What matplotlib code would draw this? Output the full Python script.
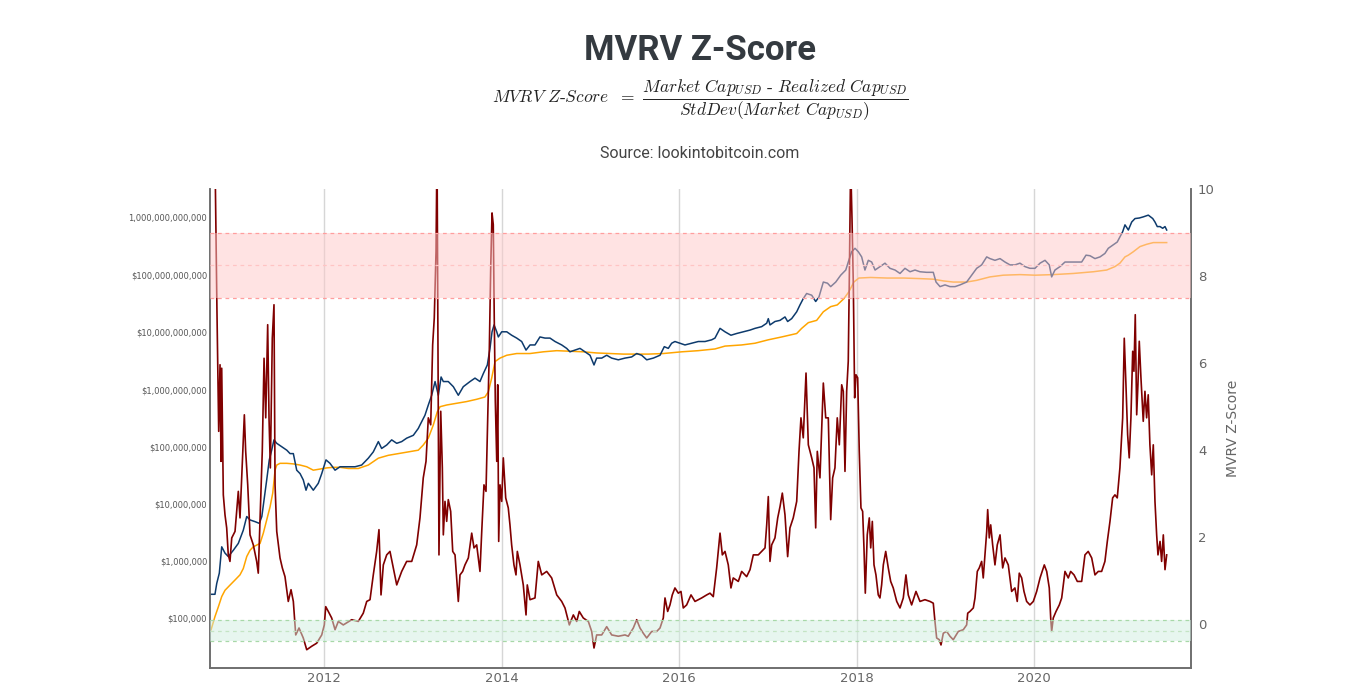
import numpy as np
import matplotlib
matplotlib.use("Agg")
import matplotlib.pyplot as plt
from matplotlib.ticker import FixedLocator, NullLocator

# ---- data (x in decimal years) ----
z_year = [2010.74, 2010.77, 2010.79, 2010.81, 2010.825, 2010.836, 2010.844, 2010.862, 2010.881, 2010.900,
          2010.918, 2010.937, 2010.957, 2010.994, 2011.031, 2011.050, 2011.069, 2011.087, 2011.099, 2011.114,
          2011.137, 2011.163, 2011.200, 2011.238, 2011.256, 2011.276, 2011.301, 2011.321, 2011.340, 2011.362,
          2011.377, 2011.392, 2011.414, 2011.433, 2011.445, 2011.464, 2011.501, 2011.527, 2011.557, 2011.594,
          2011.625, 2011.651, 2011.678, 2011.715, 2011.763, 2011.802, 2011.858, 2011.914, 2011.971, 2012.000,
          2012.016, 2012.045, 2012.083, 2012.121, 2012.158, 2012.214, 2012.309, 2012.383, 2012.439, 2012.478,
          2012.515, 2012.552, 2012.590, 2012.616, 2012.639, 2012.665, 2012.703, 2012.740, 2012.777, 2012.816,
          2012.872, 2012.928, 2012.985, 2013.041, 2013.078, 2013.115, 2013.146, 2013.172, 2013.199, 2013.221,
          2013.239, 2013.259, 2013.270, 2013.281, 2013.292, 2013.312, 2013.330, 2013.341, 2013.360, 2013.379,
          2013.397, 2013.424, 2013.447, 2013.473, 2013.510, 2013.529, 2013.559, 2013.585, 2013.623, 2013.661,
          2013.687, 2013.717, 2013.754, 2013.774, 2013.799, 2013.822, 2013.841, 2013.859, 2013.875, 2013.890,
          2013.904, 2013.915, 2013.927, 2013.943, 2013.954, 2013.965, 2013.980, 2013.999, 2014.017, 2014.044,
          2014.073, 2014.092, 2014.111, 2014.137, 2014.160, 2014.175, 2014.205, 2014.242, 2014.273, 2014.287,
          2014.318, 2014.374, 2014.411, 2014.450, 2014.506, 2014.562, 2014.619, 2014.675, 2014.712, 2014.761,
          2014.806, 2014.844, 2014.873, 2014.918, 2014.975, 2015.013, 2015.039, 2015.069, 2015.126, 2015.182,
          2015.238, 2015.313, 2015.388, 2015.425, 2015.482, 2015.520, 2015.557, 2015.594, 2015.633, 2015.689,
          2015.745, 2015.783, 2015.820, 2015.839, 2015.869, 2015.895, 2015.921, 2015.951, 2015.989, 2016.019,
          2016.045, 2016.083, 2016.132, 2016.177, 2016.252, 2016.309, 2016.346, 2016.383, 2016.421, 2016.459,
          2016.485, 2016.515, 2016.552, 2016.582, 2016.608, 2016.665, 2016.703, 2016.759, 2016.797, 2016.834,
          2016.890, 2016.928, 2016.966, 2016.985, 2017.003, 2017.022, 2017.041, 2017.078, 2017.109, 2017.135,
          2017.161, 2017.191, 2017.221, 2017.247, 2017.284, 2017.323, 2017.349, 2017.371, 2017.397, 2017.428,
          2017.454, 2017.492, 2017.518, 2017.537, 2017.555, 2017.585, 2017.623, 2017.650, 2017.679, 2017.706,
          2017.728, 2017.754, 2017.780, 2017.803, 2017.830, 2017.848, 2017.867, 2017.886, 2017.904, 2017.915,
          2017.931, 2017.946, 2017.961, 2017.976, 2017.991, 2018.010, 2018.028, 2018.047, 2018.066, 2018.081,
          2018.096, 2018.118, 2018.141, 2018.157, 2018.175, 2018.194, 2018.216, 2018.242, 2018.261, 2018.280,
          2018.299, 2018.326, 2018.355, 2018.382, 2018.411, 2018.450, 2018.487, 2018.524, 2018.554, 2018.580,
          2018.618, 2018.667, 2018.712, 2018.768, 2018.825, 2018.862, 2018.881, 2018.900, 2018.930, 2018.949,
          2018.975, 2019.013, 2019.050, 2019.087, 2019.144, 2019.200, 2019.238, 2019.250, 2019.275, 2019.313,
          2019.332, 2019.358, 2019.380, 2019.407, 2019.425, 2019.444, 2019.464, 2019.475, 2019.493, 2019.509,
          2019.531, 2019.557, 2019.583, 2019.614, 2019.644, 2019.670, 2019.707, 2019.745, 2019.782, 2019.808,
          2019.831, 2019.858, 2019.884, 2019.914, 2019.951, 2019.989, 2020.027, 2020.065, 2020.113, 2020.140,
          2020.169, 2020.185, 2020.196, 2020.214, 2020.245, 2020.282, 2020.309, 2020.346, 2020.383, 2020.410,
          2020.448, 2020.485, 2020.534, 2020.571, 2020.608, 2020.647, 2020.684, 2020.721, 2020.759, 2020.796,
          2020.823, 2020.853, 2020.883, 2020.909, 2020.935, 2020.965, 2020.996, 2021.014, 2021.033, 2021.052,
          2021.070, 2021.089, 2021.109, 2021.123, 2021.138, 2021.154, 2021.168, 2021.183, 2021.202, 2021.228,
          2021.247, 2021.266, 2021.284, 2021.303, 2021.323, 2021.341, 2021.360, 2021.379, 2021.394, 2021.417,
          2021.435, 2021.454, 2021.473, 2021.492]
z_score = [12.0, 10.5, 7.26, 4.43, 5.96, 3.74, 5.88, 2.97, 2.51, 2.21,
           1.59, 1.44, 1.98, 2.13, 3.05, 2.44, 3.36, 4.28, 4.81, 3.97,
           3.20, 2.05, 1.82, 1.44, 1.17, 2.44, 3.97, 6.11, 4.74, 6.88,
           4.74, 3.59, 6.57, 7.34, 3.20, 2.13, 1.52, 1.29, 1.09, 0.52,
           0.79, 0.52, -0.25, -0.09, -0.32, -0.59, -0.51, -0.44, -0.25, -0.02,
           0.40, 0.29, 0.14, -0.13, 0.06, -0.02, 0.10, 0.06, 0.25, 0.52,
           0.56, 1.13, 1.67, 2.17, 0.67, 1.36, 1.59, 1.67, 1.29, 0.90,
           1.21, 1.44, 1.44, 1.82, 2.44, 3.36, 3.74, 4.74, 4.58, 6.42,
           7.03, 8.57, 11.0, 6.27, 1.59, 4.89, 3.59, 2.05, 2.82, 2.36,
           2.86, 2.59, 1.67, 1.59, 0.52, 1.13, 1.21, 1.36, 1.52, 2.09,
           1.75, 1.82, 1.21, 2.13, 3.20, 3.05, 4.74, 6.27, 8.18, 9.45,
           9.18, 7.03, 5.12, 3.74, 5.50, 1.90, 3.20, 2.82, 3.82, 2.90,
           2.67, 2.28, 1.82, 1.36, 1.13, 1.67, 1.36, 0.90, 0.21, 0.90,
           0.56, 0.60, 1.44, 1.13, 1.21, 1.06, 0.67, 0.52, 0.37, -0.02,
           0.21, 0.06, 0.29, 0.14, 0.06, -0.17, -0.55, -0.25, -0.25, -0.06,
           -0.25, -0.28, -0.25, -0.28, -0.09, 0.10, -0.09, -0.21, -0.32, -0.17,
           -0.17, -0.09, 0.14, 0.60, 0.29, 0.44, 0.67, 0.83, 0.71, 0.75,
           0.37, 0.44, 0.67, 0.52, 0.60, 0.67, 0.71, 0.63, 1.29, 2.09,
           1.59, 1.67, 1.36, 0.83, 1.06, 0.98, 1.21, 1.09, 1.25, 1.59,
           1.59, 1.67, 1.75, 2.28, 2.93, 1.44, 1.82, 1.98, 2.44, 2.70,
           3.01, 2.51, 1.55, 2.21, 2.44, 2.82, 3.97, 4.74, 4.28, 5.77,
           4.12, 3.82, 3.59, 2.21, 3.97, 3.36, 5.54, 4.74, 4.74, 2.40,
           3.36, 3.59, 4.74, 4.12, 5.50, 5.35, 3.51, 5.35, 6.04, 7.80,
           10.6, 9.33, 7.80, 5.20, 5.73, 5.66, 3.97, 2.67, 2.59, 1.75,
           0.71, 2.05, 2.44, 1.75, 2.36, 1.36, 1.13, 0.67, 0.60, 0.90,
           1.36, 1.67, 1.29, 0.98, 0.83, 0.52, 0.37, 0.60, 1.13, 0.67,
           0.44, 0.75, 0.52, 0.56, 0.52, 0.48, 0.06, -0.32, -0.36, -0.48,
           -0.21, -0.17, -0.28, -0.36, -0.17, -0.13, -0.02, 0.25, 0.29, 0.37,
           0.60, 1.21, 1.29, 1.44, 1.06, 1.59, 2.13, 2.63, 1.98, 2.28,
           1.82, 1.36, 1.82, 2.05, 1.29, 1.52, 1.36, 0.75, 0.83, 0.52,
           1.17, 1.06, 0.75, 0.52, 0.44, 0.52, 0.75, 1.06, 1.36, 1.21,
           0.83, 0.14, -0.17, 0.14, 0.29, 0.44, 0.60, 1.21, 1.06, 1.21,
           1.13, 0.98, 0.98, 1.59, 1.67, 1.52, 1.13, 1.21, 1.21, 1.44,
           1.90, 2.36, 2.90, 2.97, 2.90, 3.59, 4.74, 6.57, 5.50, 4.35,
           3.82, 4.74, 6.27, 5.81, 7.11, 4.81, 5.50, 6.50, 5.66, 4.66,
           5.35, 4.74, 5.27, 4.12, 3.43, 4.12, 2.82, 2.05, 1.59, 1.90,
           1.44, 2.05, 1.25, 1.59]

mcap_year = [2010.724, 2010.768, 2010.788, 2010.817, 2010.844, 2010.881, 2010.918, 2010.975, 2011.031, 2011.087,
             2011.126, 2011.163, 2011.220, 2011.268, 2011.296, 2011.321, 2011.351, 2011.380, 2011.407, 2011.433,
             2011.464, 2011.520, 2011.577, 2011.614, 2011.651, 2011.689, 2011.727, 2011.763, 2011.794, 2011.820,
             2011.876, 2011.932, 2011.971, 2012.019, 2012.064, 2012.121, 2012.177, 2012.252, 2012.346, 2012.421,
             2012.496, 2012.552, 2012.609, 2012.646, 2012.703, 2012.759, 2012.816, 2012.872, 2012.928, 2013.003,
             2013.059, 2013.078, 2013.134, 2013.172, 2013.210, 2013.248, 2013.285, 2013.316, 2013.341, 2013.397,
             2013.454, 2013.510, 2013.566, 2013.642, 2013.698, 2013.754, 2013.792, 2013.837, 2013.867, 2013.890,
             2013.913, 2013.943, 2013.961, 2013.999, 2014.056, 2014.111, 2014.168, 2014.224, 2014.273, 2014.318,
             2014.374, 2014.430, 2014.487, 2014.543, 2014.600, 2014.675, 2014.731, 2014.768, 2014.825, 2014.881,
             2014.937, 2014.994, 2015.039, 2015.069, 2015.126, 2015.182, 2015.238, 2015.313, 2015.388, 2015.463,
             2015.520, 2015.576, 2015.633, 2015.707, 2015.783, 2015.831, 2015.876, 2015.914, 2015.951, 2016.008,
             2016.064, 2016.139, 2016.214, 2016.290, 2016.365, 2016.402, 2016.459, 2016.515, 2016.582, 2016.646,
             2016.721, 2016.797, 2016.853, 2016.928, 2016.985, 2017.003, 2017.022, 2017.078, 2017.135, 2017.191,
             2017.221, 2017.266, 2017.323, 2017.360, 2017.397, 2017.435, 2017.492, 2017.537, 2017.574, 2017.623,
             2017.670, 2017.706, 2017.763, 2017.819, 2017.876, 2017.904, 2017.942, 2017.980, 2018.017, 2018.055,
             2018.092, 2018.130, 2018.168, 2018.206, 2018.261, 2018.318, 2018.374, 2018.431, 2018.487, 2018.543,
             2018.600, 2018.656, 2018.712, 2018.787, 2018.862, 2018.893, 2018.938, 2018.994, 2019.050, 2019.107,
             2019.163, 2019.238, 2019.294, 2019.351, 2019.407, 2019.464, 2019.501, 2019.557, 2019.614, 2019.670,
             2019.726, 2019.782, 2019.839, 2019.895, 2019.951, 2020.008, 2020.065, 2020.121, 2020.169, 2020.196,
             2020.233, 2020.290, 2020.346, 2020.403, 2020.478, 2020.534, 2020.583, 2020.628, 2020.684, 2020.741,
             2020.796, 2020.834, 2020.890, 2020.935, 2020.965, 2020.996, 2021.022, 2021.060, 2021.098, 2021.135,
             2021.184, 2021.229, 2021.285, 2021.335, 2021.360, 2021.386, 2021.417, 2021.447, 2021.473, 2021.492]
mcap_log10 = [5.42, 5.42, 5.61, 5.79, 6.25, 6.14, 6.08, 6.19, 6.31, 6.54,
              6.78, 6.72, 6.69, 6.66, 6.78, 7.07, 7.42, 7.77, 7.94, 8.12,
              8.06, 8.00, 7.94, 7.88, 7.88, 7.59, 7.53, 7.42, 7.24, 7.36,
              7.24, 7.36, 7.53, 7.77, 7.71, 7.59, 7.65, 7.65, 7.65, 7.68,
              7.80, 7.91, 8.09, 7.97, 8.03, 8.12, 8.06, 8.09, 8.15, 8.20,
              8.32, 8.38, 8.55, 8.73, 8.90, 9.14, 8.90, 9.22, 9.14, 9.14,
              9.05, 8.90, 9.05, 9.14, 9.20, 9.14, 9.28, 9.43, 9.72, 10.01,
              10.13, 10.01, 9.92, 10.01, 10.01, 9.95, 9.90, 9.84, 9.69, 9.78,
              9.78, 9.92, 9.90, 9.90, 9.84, 9.78, 9.72, 9.66, 9.69, 9.72,
              9.66, 9.60, 9.43, 9.55, 9.55, 9.60, 9.55, 9.52, 9.55, 9.57,
              9.63, 9.60, 9.52, 9.55, 9.60, 9.75, 9.72, 9.81, 9.84, 9.81,
              9.78, 9.81, 9.84, 9.84, 9.87, 9.90, 10.07, 10.01, 9.95, 9.98,
              10.01, 10.04, 10.07, 10.10, 10.16, 10.24, 10.13, 10.19, 10.21, 10.27,
              10.19, 10.24, 10.36, 10.48, 10.59, 10.68, 10.65, 10.54, 10.62, 10.88,
              10.86, 10.80, 10.88, 11.00, 11.09, 11.23, 11.41, 11.47, 11.41, 11.32,
              11.09, 11.26, 11.23, 11.09, 11.15, 11.21, 11.12, 11.09, 11.03, 11.12,
              11.06, 11.09, 11.06, 11.05, 11.05, 10.88, 10.80, 10.83, 10.80, 10.80,
              10.83, 10.88, 11.00, 11.12, 11.18, 11.32, 11.29, 11.26, 11.29, 11.23,
              11.18, 11.18, 11.21, 11.15, 11.12, 11.12, 11.21, 11.26, 11.18, 10.97,
              11.09, 11.15, 11.23, 11.23, 11.23, 11.23, 11.35, 11.34, 11.29, 11.32,
              11.38, 11.47, 11.53, 11.58, 11.67, 11.76, 11.88, 11.79, 11.93, 11.99,
              12.00, 12.02, 12.05, 11.99, 11.93, 11.85, 11.85, 11.82, 11.85, 11.79]

rcap_year = [2010.724, 2010.768, 2010.806, 2010.844, 2010.881, 2010.937, 2010.994, 2011.050, 2011.087, 2011.126,
             2011.163, 2011.200, 2011.238, 2011.276, 2011.313, 2011.351, 2011.389, 2011.419, 2011.445, 2011.464,
             2011.501, 2011.577, 2011.651, 2011.727, 2011.802, 2011.876, 2011.952, 2012.027, 2012.102, 2012.177,
             2012.271, 2012.383, 2012.496, 2012.609, 2012.721, 2012.834, 2012.947, 2013.059, 2013.115, 2013.172,
             2013.228, 2013.273, 2013.304, 2013.379, 2013.491, 2013.604, 2013.717, 2013.810, 2013.848, 2013.886,
             2013.924, 2013.980, 2014.056, 2014.168, 2014.318, 2014.468, 2014.619, 2014.768, 2014.918, 2015.069,
             2015.219, 2015.369, 2015.463, 2015.651, 2015.820, 2016.027, 2016.214, 2016.402, 2016.515, 2016.703,
             2016.853, 2017.003, 2017.154, 2017.323, 2017.379, 2017.454, 2017.548, 2017.623, 2017.706, 2017.780,
             2017.855, 2017.911, 2017.967, 2018.024, 2018.155, 2018.343, 2018.530, 2018.712, 2018.862, 2018.975,
             2019.087, 2019.238, 2019.351, 2019.501, 2019.651, 2019.839, 2020.008, 2020.214, 2020.440, 2020.665,
             2020.816, 2020.909, 2020.965, 2021.022, 2021.060, 2021.116, 2021.191, 2021.266, 2021.341, 2021.417,
             2021.492]
rcap_log10 = [4.80, 5.03, 5.20, 5.38, 5.49, 5.58, 5.67, 5.76, 5.87, 6.08,
              6.19, 6.25, 6.28, 6.31, 6.49, 6.72, 6.95, 7.19, 7.59, 7.68,
              7.71, 7.71, 7.70, 7.68, 7.65, 7.59, 7.61, 7.63, 7.64, 7.64,
              7.62, 7.62, 7.68, 7.80, 7.85, 7.88, 7.91, 7.94, 8.03, 8.15,
              8.38, 8.61, 8.70, 8.73, 8.76, 8.79, 8.83, 8.87, 8.96, 9.20,
              9.49, 9.55, 9.60, 9.63, 9.63, 9.66, 9.68, 9.67, 9.66, 9.64,
              9.63, 9.62, 9.62, 9.62, 9.63, 9.66, 9.68, 9.71, 9.76, 9.78,
              9.81, 9.87, 9.92, 9.98, 10.07, 10.17, 10.21, 10.36, 10.45, 10.48,
              10.59, 10.71, 10.88, 10.95, 10.96, 10.95, 10.95, 10.94, 10.93, 10.90,
              10.88, 10.88, 10.91, 10.97, 11.00, 11.01, 11.00, 11.01, 11.03, 11.06,
              11.09, 11.15, 11.21, 11.32, 11.35, 11.41, 11.50, 11.54, 11.57, 11.57,
              11.57]

year_ticks = [2012, 2014, 2016, 2018, 2020]
cap_ticks = [1e5, 1e6, 1e7, 1e8, 1e9, 1e10, 1e11, 1e12]
cap_labels = ["$100,000", "$1,000,000", "$10,000,000", "$100,000,000", "$1,000,000,000",
              "$10,000,000,000", "$100,000,000,000", "1,000,000,000,000"]
z_ticks = [0, 2, 4, 6, 8, 10]
red_band = [7.5, 8.25, 9.0]
green_band = [-0.4, -0.15, 0.1]

# ---- figure ----
fig = plt.figure(figsize=(13.54, 6.97), dpi=100)
ax = fig.add_axes([210 / 1354, 1 - 668 / 697, 981 / 1354, 479 / 697])
ax2 = ax.twinx()

ax.plot(rcap_year, 10 ** np.array(rcap_log10), color="#ffa500", lw=1.1, zorder=2)
ax.plot(mcap_year, 10 ** np.array(mcap_log10), color="#0d3a6c", lw=1.1, zorder=3)
ax2.plot(z_year, z_score, color="#800000", lw=1.2, zorder=2)

# bands sit over the lines, so lines inside look faded
ax2.axhspan(red_band[0], red_band[2], color="#ffc9c9", alpha=0.5, lw=0, zorder=4)
ax2.axhspan(green_band[0], green_band[2], color="#d1efe1", alpha=0.5, lw=0, zorder=4)
for v in (red_band[0], red_band[2]):
    ax2.axhline(v, color="#ff9e9e", lw=0.9, ls=(0, (3, 3)), zorder=5)
ax2.axhline(red_band[1], color="#ffc4c4", lw=0.9, ls=(0, (3, 3)), zorder=5)
for v in (green_band[0], green_band[2]):
    ax2.axhline(v, color="#a8d8a8", lw=0.9, ls=(0, (3, 3)), zorder=5)
ax2.axhline(green_band[1], color="#c4e4c4", lw=0.9, ls=(0, (3, 3)), zorder=5)

ax.set_xlim(2010.712, 2021.766)
ax.set_yscale("log")
ax.set_ylim(10 ** 4.131, 10 ** 12.507)
ax2.set_ylim(-1.01, 10.0)

ax.xaxis.set_major_locator(FixedLocator(year_ticks))
ax.set_xticklabels([str(y) for y in year_ticks])
ax.xaxis.set_minor_locator(NullLocator())
ax.grid(axis="x", color="#d6d6d6", lw=1)
ax.set_axisbelow(True)

ax.yaxis.set_major_locator(FixedLocator(cap_ticks))
ax.yaxis.set_minor_locator(NullLocator())
ax.set_yticklabels(cap_labels)
ax2.yaxis.set_major_locator(FixedLocator(z_ticks))
ax2.set_yticklabels([str(t) for t in z_ticks])

ax.tick_params(axis="x", length=0, pad=3, labelsize=9.5, labelcolor="#666666")
ax.tick_params(axis="y", length=0, pad=2, labelsize=6.0, labelcolor="#555555")
ax2.tick_params(axis="y", length=0, pad=5, labelsize=9.5, labelcolor="#666666")
ax2.set_ylabel("MVRV Z-Score", color="#666666", fontsize=10, labelpad=8)

for a in (ax, ax2):
    a.spines["top"].set_visible(False)
    for s in ("left", "bottom", "right"):
        a.spines[s].set_color("#6e6e6e")
        a.spines[s].set_linewidth(1.2)

# ---- titles ----
cx = 700 / 1354
fig.text(cx, 1 - 60 / 697, "MVRV Z-Score", ha="center", va="baseline",
         fontsize=25, fontweight="bold", color="#343a40", family="Roboto")
plt.rcParams["mathtext.fontset"] = "cm"
fig.text(cx, 1 - 100 / 697,
         r"$MVRV\ Z\text{-}Score\ \ =\ \dfrac{Market\ Cap_{USD}\ \text{-}\ Realized\ Cap_{USD}}{StdDev(Market\ Cap_{USD})}$",
         ha="center", va="center", fontsize=12.5, color="#222222")
fig.text(cx, 1 - 158 / 697, "Source: lookintobitcoin.com", ha="center", va="baseline",
         fontsize=11.5, color="#444444", family="Roboto")

fig.savefig("out.png", dpi=100)
